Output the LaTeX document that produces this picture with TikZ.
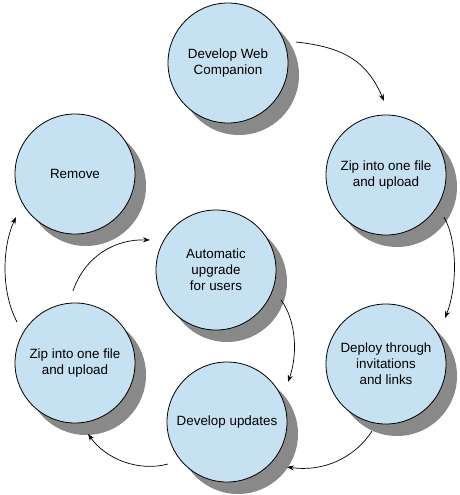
\documentclass[tikz,border=0pt]{standalone}
\usepackage{fontspec}
\setmainfont{Liberation Sans}
\usetikzlibrary{calc,shadows,arrows.meta}
\definecolor{circfill}{RGB}{198,226,242}
\definecolor{shadowgray}{RGB}{137,137,137}
\tikzset{
  stage/.style={circle, draw=black, line width=0.8pt, fill=circfill,
    minimum size=120pt, inner sep=0pt, align=center,
    font=\fontsize{13.4}{16}\selectfont,
    drop shadow={shadow xshift=11pt, shadow yshift=-12pt, opacity=1, fill=shadowgray}},
  flow/.style={line width=0.7pt, -{Stealth[length=7pt,width=5pt]}}
}
\begin{document}
\begin{tikzpicture}[x=1pt,y=-1pt]
\useasboundingbox (0,0) rectangle (459,495);
\node[stage] (web)  at (228,63)  {Develop Web\\Companion};
\node[stage] (zipr) at (386,175) {Zip into one file\\and upload};
\node[stage] (dep)  at (386,364) {Deploy through\\invitations\\and links};
\node[stage] (upd)  at (227,422) {Develop updates};
\node[stage] (zipl) at (75,363)  {Zip into one file\\and upload};
\node[stage] (rem)  at (75,174)  {Remove};
\node[stage] (auto) at (216,270) {Automatic\\upgrade\\for users};

\draw[flow] ($(web)+(68,-21)$) .. controls +(45,5) and +(-18,-42) .. ($(zipr)+(-2,-74)$);
\draw[flow] ($(zipr)+(58,42)$) .. controls +(14,25) and +(12,-30) .. ($(dep)+(59,-46)$);
\draw[flow] ($(dep)+(-14,67)$) .. controls +(-18,28) and +(35,5) .. ($(upd)+(60,45)$);
\draw[flow] ($(upd)+(-59,42)$) .. controls +(-30,8) and +(18,25) .. ($(zipl)+(13,71)$);
\draw[flow] ($(zipl)+(-2,-72)$) .. controls +(12,-35) and +(-35,-1) .. ($(auto)+(-66,-30)$);
\draw[flow] ($(auto)+(65,30)$) .. controls +(15,20) and +(10,-28) .. ($(upd)+(61,-40)$);
\draw[flow] ($(zipl)+(-58,-41)$) .. controls +(-16,-30) and +(-14,30) .. ($(rem)+(-59,43)$);
\end{tikzpicture}
\end{document}
